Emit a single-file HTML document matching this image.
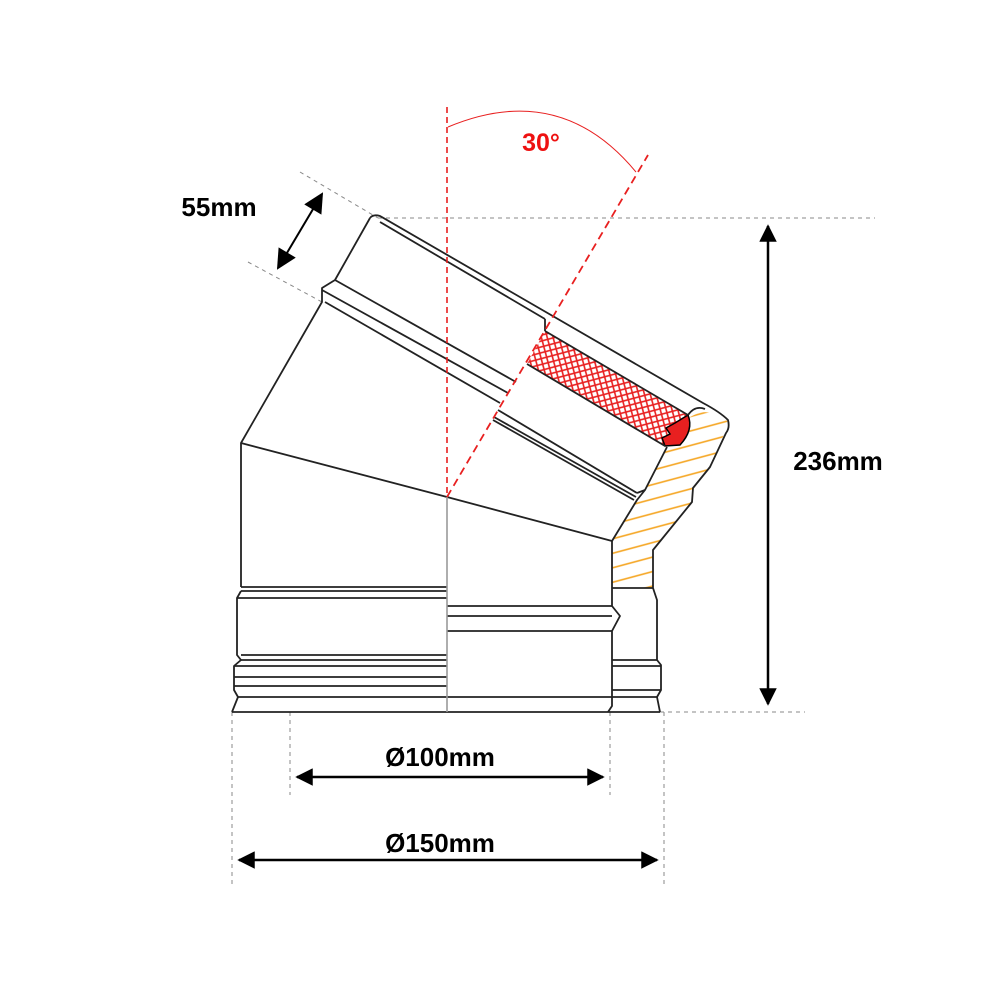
<!DOCTYPE html>
<html><head><meta charset="utf-8"><style>
html,body{margin:0;padding:0;background:#fff}
svg{display:block}
text{font-family:"Liberation Sans",Arial,sans-serif;font-weight:bold}
</style></head><body>
<svg width="1000" height="1000" viewBox="0 0 1000 1000" xmlns="http://www.w3.org/2000/svg">
<defs>
<pattern id="mesh" width="8" height="8" patternUnits="userSpaceOnUse" patternTransform="rotate(30)">
<rect width="8" height="8" fill="#fff"/>
<path d="M0 0L8 8M8 0L0 8" stroke="#e82020" stroke-width="1.6"/>
</pattern>
<pattern id="orange" width="14" height="14" patternUnits="userSpaceOnUse" patternTransform="rotate(-15)">
<rect width="14" height="14" fill="#fff"/>
<line x1="0" y1="7" x2="14" y2="7" stroke="#f5a623" stroke-width="1.6"/>
</pattern>
<marker id="ah" viewBox="0 0 10 10" refX="9" refY="5" markerWidth="8" markerHeight="7" orient="auto-start-reverse" markerUnits="strokeWidth">
<path d="M0 0L10 5L0 10z" fill="#000"/>
</marker>
<marker id="ah2" viewBox="0 0 10 10" refX="9" refY="5" markerWidth="12" markerHeight="10" orient="auto-start-reverse" markerUnits="strokeWidth">
<path d="M0 0L10 5L0 10z" fill="#000"/>
</marker>
</defs>

<g stroke="#888" stroke-width="1" stroke-dasharray="4,4" fill="none">
<line x1="378" y1="218" x2="875" y2="218"/>
<line x1="660" y1="712" x2="805" y2="712"/>
<line x1="300" y1="172" x2="378" y2="218"/>
<line x1="248" y1="262" x2="322" y2="302"/>
<line x1="232" y1="712" x2="232" y2="885"/>
<line x1="290" y1="712" x2="290" y2="795"/>
<line x1="610" y1="712" x2="610" y2="795"/>
<line x1="664" y1="712" x2="664" y2="885"/>
</g>

<path d="M700,412 Q728,412 728,425 L710,467 L693,488 L692,502 L653,550 L653,588 L612,588 L612,541 L637,500 L645,490 L667,447 L690,417 Z" fill="url(#orange)" stroke="none"/>

<path d="M545,331 L688,415 L665,446 L527,364 Z" fill="url(#mesh)"/>
<path d="M688,415 Q694,430 680,445 L665,446 L662,438 L670,434 L666,428 L675,423 Z" fill="#e82020" stroke="#000" stroke-width="1.5"/>

<g stroke="#222" stroke-width="1.8" fill="none" stroke-linejoin="round">
<path d="M370,218 Q373,214 380,216 L703,403 Q720,412 728,420 Q730,428 726,433 L710,467 L693,488 L692,502 L653,550 L653,588 L657,600 L657,660 L661,665 L661,690 L657,697 L660,712"/>
<path d="M370,218 L335,280 L322,288 L322,302 L241,443 L241,587"/>
<line x1="380" y1="222" x2="545" y2="319"/>
<line x1="545" y1="319" x2="545" y2="331"/>
<line x1="545" y1="331" x2="688" y2="415"/>
<line x1="527" y1="364" x2="665" y2="446"/>
<path d="M688,415 Q695,405 705,409"/>
<line x1="335" y1="280" x2="516" y2="382"/>
<line x1="322" y1="290" x2="508" y2="393"/>
<line x1="325" y1="302" x2="500" y2="403"/>
<line x1="498" y1="410" x2="637" y2="493"/>
<line x1="493" y1="420" x2="634" y2="500"/>
<line x1="494" y1="417" x2="636" y2="497"/>
<line x1="637" y1="493" x2="645" y2="490"/>
<path d="M667,447 L645,490 L637,500 L612,541"/>
<path d="M241,443 L447,497 L612,541"/>
<line x1="241" y1="587" x2="447" y2="587"/>
<line x1="241" y1="591" x2="447" y2="591"/>
<path d="M241,591 L237,598 L237,655 L241,660"/>
<line x1="237" y1="598" x2="447" y2="598"/>
<line x1="241" y1="655" x2="447" y2="655"/>
<line x1="241" y1="660" x2="447" y2="660"/>
<path d="M241,660 L234,666 L234,690 L238,697 L232,712"/>
<line x1="234" y1="666" x2="447" y2="666"/>
<line x1="234" y1="677" x2="447" y2="677"/>
<line x1="234" y1="686" x2="447" y2="686"/>
<line x1="238" y1="697" x2="447" y2="697"/>
<line x1="232" y1="712" x2="612" y2="712"/>
<line x1="447" y1="606" x2="612" y2="606"/>
<line x1="447" y1="616" x2="612" y2="616"/>
<line x1="447" y1="631" x2="612" y2="631"/>
<line x1="447" y1="697" x2="612" y2="697"/>
<path d="M612,541 L612,606 L620,616 L612,631 L612,706 L608,712"/>
<line x1="612" y1="588" x2="653" y2="588"/>
<line x1="612" y1="660" x2="657" y2="660"/>
<line x1="612" y1="666" x2="661" y2="666"/>
<line x1="612" y1="690" x2="661" y2="690"/>
<line x1="612" y1="697" x2="657" y2="697"/>
<line x1="612" y1="712" x2="660" y2="712"/>
</g>
<line x1="447" y1="497" x2="447" y2="712" stroke="#999" stroke-width="1.6"/>

<g stroke="#e82020" fill="none">
<line x1="447" y1="107" x2="447" y2="497" stroke-width="1.6" stroke-dasharray="6,4"/>
<line x1="447" y1="497" x2="648" y2="155" stroke-width="1.8" stroke-dasharray="8,5"/>
<path d="M448,127 Q560,80 636,172" stroke-width="1"/>
</g>
<text x="541" y="151" font-size="25" fill="#ee1111" text-anchor="middle">30°</text>

<g stroke="#000" stroke-width="2.5">
<line x1="322" y1="194" x2="278" y2="268" marker-start="url(#ah2)" marker-end="url(#ah2)" stroke-width="2"/>
<line x1="768" y1="226" x2="768" y2="704" marker-start="url(#ah)" marker-end="url(#ah)"/>
<line x1="297" y1="777" x2="603" y2="777" marker-start="url(#ah)" marker-end="url(#ah)"/>
<line x1="239" y1="860" x2="657" y2="860" marker-start="url(#ah)" marker-end="url(#ah)"/>
</g>
<text x="219" y="216" font-size="26" text-anchor="middle">55mm</text>
<text x="838" y="470" font-size="26" text-anchor="middle">236mm</text>
<text x="440" y="766" font-size="26" text-anchor="middle">Ø100mm</text>
<text x="440" y="852" font-size="26" text-anchor="middle">Ø150mm</text>
</svg>
</body></html>
